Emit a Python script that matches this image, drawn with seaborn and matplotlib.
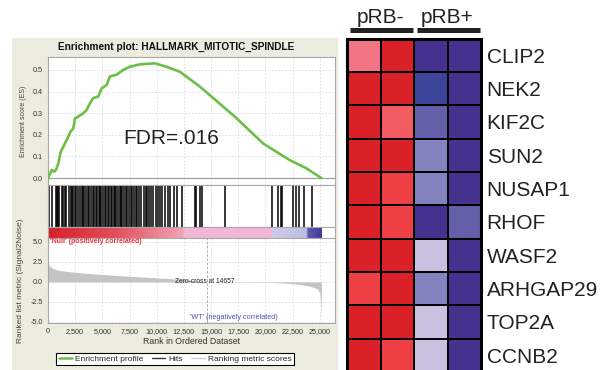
import numpy as np
import pandas as pd
import matplotlib
matplotlib.use('Agg')
import matplotlib.pyplot as plt
import seaborn as sns
from matplotlib.colors import LinearSegmentedColormap
from matplotlib.lines import Line2D
from matplotlib.patches import Rectangle
from matplotlib.ticker import FuncFormatter

sns.set_style('white')
plt.rcParams['font.family'] = ['Liberation Sans', 'DejaVu Sans']

# ---------------- data ----------------
title = "Enrichment plot: HALLMARK_MITOTIC_SPINDLE"
fdr_text = "FDR=.016"
n_genes = 25150
zero_cross = 14657

es_rank = [0, 340, 550, 730, 950, 1160, 1410, 1710, 2080, 2330, 2480, 2780, 3240, 3550,
           3860, 4160, 4620, 4930, 5390, 5690, 6300, 6920, 7530, 8450, 9820, 10890,
           12120, 13030, 13970, 17190, 19790, 22240, 23770, 25150]
es_val = [0.0, 0.037, 0.03, 0.037, 0.068, 0.12, 0.145, 0.176, 0.215, 0.23, 0.276, 0.284,
          0.30, 0.315, 0.346, 0.37, 0.377, 0.415, 0.43, 0.47, 0.478, 0.50, 0.515, 0.526,
          0.531, 0.515, 0.492, 0.458, 0.423, 0.284, 0.16, 0.083, 0.045, 0.0]

hit_ranks = [120, 350, 700, 800, 900, 1050, 1250, 1400, 1550, 1700, 1900, 2100, 2200,
             2300, 2450, 2600, 2800, 2950, 3100, 3250, 3350, 3500, 3650, 3800, 3950,
             4100, 4250, 4400, 4500, 4650, 4800, 4900, 5050, 5200, 5350, 5500, 5600,
             5750, 5900, 6050, 6200, 6300, 6450, 6600, 6750, 6850, 7000, 7150, 7300,
             7450, 7600, 7750, 7900, 8050, 8200, 8400, 8600, 8800, 9000, 9150, 9300,
             9500, 9700, 9900, 10100, 10300, 10500, 10750, 11000, 11250, 11600, 11900,
             12300, 13500, 13650, 13950, 14200, 16250, 20650, 21200, 21400, 21550,
             22550, 22850, 23050, 23550, 24330]

metric_rank = [0, 100, 300, 600, 1000, 1500, 2500, 3750, 5000, 7500, 10000, 12500, 14657,
               17500, 20000, 21000, 22000, 23000, 24000, 24500, 24800, 25000, 25100, 25150]
metric_val = [2.7, 2.1, 1.8, 1.6, 1.45, 1.35, 1.2, 1.05, 0.92, 0.7, 0.5, 0.3, 0.0,
              -0.03, -0.06, -0.1, -0.17, -0.28, -0.5, -0.7, -0.9, -1.4, -2.5, -4.7]

band_stops = [0.0, 0.25, 0.493, 0.497, 0.818, 0.822, 0.945, 0.95, 1.0]
band_colors = ['#D41F2A', '#E4505C', '#F2A4B6', '#F2B8D3', '#F2B8D3', '#CCCCE8',
               '#BDBDE0', '#5E5AB2', '#3F3A9C']

pos_label = "'Null' (positively correlated)"
neg_label = "'WT' (negatively correlated)"

genes = ['CLIP2', 'NEK2', 'KIF2C', 'SUN2', 'NUSAP1', 'RHOF', 'WASF2', 'ARHGAP29',
         'TOP2A', 'CCNB2']
groups = ['pRB-', 'pRB+']
samples = ['pRB-_1', 'pRB-_2', 'pRB+_1', 'pRB+_2']
expr = [
    [0.5, 1.0, -0.94, -0.94],
    [1.0, 1.0, -1.0, -0.94],
    [1.0, 0.7, -0.76, -0.94],
    [1.0, 1.0, -0.5, -0.94],
    [1.0, 0.84, -0.5, -0.94],
    [1.0, 0.84, -0.94, -0.76],
    [1.0, 1.0, -0.16, -0.94],
    [0.84, 1.0, -0.5, -0.94],
    [1.0, 1.0, -0.16, -0.94],
    [1.0, 0.84, -0.16, -0.94],
]

# ---------------- layout helpers ----------------
W, H = 614, 370
def fx(px): return px / W
def fy(py): return 1 - py / H

fig = plt.figure(figsize=(W / 100, H / 100), dpi=100)
fig.patches.append(Rectangle((fx(12), 0), (338 - 12) / W, (H - 38) / H,
                             transform=fig.transFigure, facecolor='#ECEBDF',
                             edgecolor='none', zorder=-10))

L, R = 48, 335
xmax = 26400
xt = np.arange(0, 25001, 2500)
spine_c = '#A8A8A8'
grid_kw = dict(color='#DADADA', linestyle=(0, (2, 2)), linewidth=0.6)

def style(ax):
    ax.set_facecolor('white')
    for s in ax.spines.values():
        s.set_color(spine_c)
        s.set_linewidth(0.8)
    ax.set_xlim(0, xmax)
    ax.set_xticks(xt)
    ax.tick_params(axis='both', labelsize=5.2, colors='#333333', length=2, width=0.5, pad=1.5)

ax_es = fig.add_axes([fx(L), fy(185), (R - L) / W, (185 - 57) / H])
ax_hit = fig.add_axes([fx(L), fy(227), (R - L) / W, (227 - 185) / H])
ax_band = fig.add_axes([fx(L), fy(238), (R - L) / W, (238 - 227) / H])
ax_met = fig.add_axes([fx(L), fy(323), (R - L) / W, (323 - 238) / H])

# ES panel
style(ax_es)
ax_es.grid(True, **grid_kw)
ax_es.axhline(0, color='#9A9A9A', lw=0.8, zorder=1)
sns.lineplot(x=es_rank, y=es_val, ax=ax_es, color='#6BBF47', linewidth=1.9,
             estimator=None, sort=False, zorder=3)
ax_es.set_ylim(-0.032, 0.56)
ax_es.set_yticks([0.0, 0.1, 0.2, 0.3, 0.4, 0.5])
ax_es.yaxis.set_major_formatter(FuncFormatter(lambda v, p: f'{v:.1f}'))
ax_es.tick_params(axis='x', labelbottom=False, length=0)
ax_es.set_ylabel('Enrichment score (ES)', fontsize=5, color='#444444')
ax_es.yaxis.set_label_coords((27 - L) / (R - L), 0.5)
ax_es.text(6900, 0.185, fdr_text, fontsize=15, color='#222222', ha='left', va='center')

# Hits panel
style(ax_hit)
ax_hit.grid(True, axis='x', **grid_kw)
ax_hit.vlines(hit_ranks, 0, 1, color='black', linewidth=1.1)
ax_hit.set_ylim(0, 1)
ax_hit.set_yticks([])
ax_hit.tick_params(axis='x', labelbottom=False, length=0)

# Colour band
style(ax_band)
band_cmap = LinearSegmentedColormap.from_list('band', list(zip(band_stops, band_colors)))
ax_band.imshow(np.linspace(0, 1, 1024)[None, :], aspect='auto', cmap=band_cmap,
               extent=[0, n_genes, 0, 1], interpolation='bilinear')
ax_band.set_xlim(0, xmax)
ax_band.set_ylim(0, 1)
ax_band.set_yticks([])
ax_band.tick_params(axis='x', labelbottom=False, length=0)

# Ranked metric panel
style(ax_met)
ax_met.grid(True, **grid_kw)
ax_met.fill_between(metric_rank, 0, metric_val, color='#C4C4C4', linewidth=0, zorder=2)
ax_met.axvline(zero_cross, color='#A0A0A0', linestyle=(0, (3, 2)), linewidth=0.6, zorder=3)
ax_met.set_ylim(-5.15, 5.5)
ax_met.set_yticks([-5.0, -2.5, 0.0, 2.5, 5.0])
ax_met.yaxis.set_major_formatter(FuncFormatter(lambda v, p: f'{v:.1f}'))
ax_met.xaxis.set_major_formatter(FuncFormatter(lambda v, p: f'{int(v):,}'))
ax_met.text(zero_cross - 200, 0, f'Zero-cross at {zero_cross}', fontsize=4.8,
            ha='center', va='center', color='#222222', zorder=4)
ax_met.text(150, 5.45, pos_label, fontsize=5, fontweight='bold', color='#F0303C',
            ha='left', va='top')
ax_met.text(17100, -4.5, neg_label, fontsize=5.2, color='#5050B8', ha='center', va='center')
ax_met.set_ylabel('Ranked list metric (Signal2Noise)', fontsize=6, color='#444444')
ax_met.yaxis.set_label_coords((24 - L) / (R - L), 0.5)
ax_met.set_xlabel('Rank in Ordered Dataset', fontsize=6.3, color='#333333')
ax_met.xaxis.set_label_coords(0.5, -0.17)

fig.text(fx(176), fy(47), title, fontsize=7.3, fontweight='bold', ha='center',
         va='center', color='#111111')

handles = [Line2D([], [], color='#6BBF47', lw=1.8),
           Line2D([], [], color='#333333', lw=1.0),
           Line2D([], [], color='#D0D0D0', lw=1.0)]
leg = fig.legend(handles, ['Enrichment profile', 'Hits', 'Ranking metric scores'],
                 loc='center', bbox_to_anchor=(fx(175), fy(359)), ncol=3, fontsize=6,
                 frameon=True, fancybox=False, edgecolor='black', framealpha=1,
                 borderpad=0.25, handlelength=1.6, columnspacing=1.0, handletextpad=0.4)
leg.get_frame().set_linewidth(0.8)

# ---------------- heatmap ----------------
hm_cmap = LinearSegmentedColormap.from_list('hm', [
    (0.0, '#3C4599'), (0.03, '#46308E'), (0.12, '#6460AA'), (0.25, '#8282BE'),
    (0.42, '#C8C2E0'), (0.5, '#FFFFFF'), (0.6, '#F8B4BE'), (0.75, '#F07585'),
    (0.85, '#F25B60'), (0.92, '#EE4046'), (1.0, '#DA2128')])
df = pd.DataFrame(expr, index=genes, columns=samples)
ax_h = fig.add_axes([fx(347), fy(372), 134 / W, 333.5 / H])
sns.heatmap(df, ax=ax_h, cmap=hm_cmap, vmin=-1, vmax=1, cbar=False, linewidths=1.4,
            linecolor='black', xticklabels=False, yticklabels=genes)
for s in ax_h.spines.values():
    s.set_visible(True)
    s.set_color('black')
    s.set_linewidth(2.2)
ax_h.yaxis.tick_right()
ax_h.set_yticklabels(genes, rotation=0, fontsize=15, color='#222222')
ax_h.tick_params(axis='y', length=0, pad=4)
ax_h.set_ylabel('')
for i, g in enumerate(groups):
    ax_h.text(2 * i + 1, -0.45, g, fontsize=15, ha='center', va='baseline',
              color='#222222', clip_on=False)
    ax_h.plot([2 * i + 0.08, 2 * i + 1.98], [-0.255, -0.255], color='#222222', lw=3.6,
              solid_capstyle='butt', clip_on=False)

fig.savefig('out.png', dpi=100)
